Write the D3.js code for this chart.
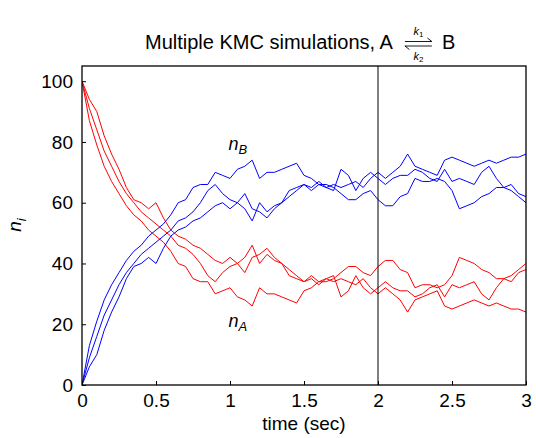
<!DOCTYPE html>
<html><head><meta charset="utf-8">
<script src="https://cdn.jsdelivr.net/npm/d3@7"></script>
<style>
body{margin:0;background:#fff}
text{font-family:"Liberation Sans",Arial,sans-serif;fill:#000}
</style>
</head><body>
<svg id="c" width="536" height="438"></svg>
<script>
// time grid (sec)
const times = [0,0.05,0.1,0.15,0.2,0.25,0.3,0.35,0.4,0.45,
  0.5,0.55,0.6,0.65,0.7,0.75,0.8,0.85,0.9,0.95,
  1,1.05,1.1,1.15,1.2,1.25,1.3,1.35,1.4,1.45,
  1.5,1.55,1.6,1.65,1.7,1.75,1.8,1.85,1.9,1.95,
  2,2.05,2.1,2.15,2.2,2.25,2.3,2.35,2.4,2.45,
  2.5,2.55,2.6,2.65,2.7,2.75,2.8,2.85,2.9,2.95,3];

// n_B for three KMC runs
const nB_run1 = [0,13,21,28,33,37,41,44,46,49, 51,53,56,60,61,65,66,66,70,69,
  68,71,72,74,68,70,70,71,72,73, 69,68,66,65,66,65,66,67,65,68,
  70,68,70,72,76,72,71,70,69,74, 75,74,73,72,73,74,73,74,75,75, 76];
const nB_run2 = [0,9,16,23,28,33,37,40,43,45, 47,49,51,54,55,57,60,64,66,63,
  61,60,58,54,60,57,59,60,64,65, 66,65,67,65,64,71,69,64,68,70,
  68,66,68,69,69,71,70,68,67,71, 67,68,67,66,70,72,68,65,66,63, 62];
const nB_run3 = [0,6,10,18,24,29,35,39,40,42, 40,45,49,51,52,54,55,57,59,60,
  58,60,63,58,57,55,58,60,62,64, 66,64,66,66,65,63,61,61,63,64,
  61,59,59,62,63,68,67,67,68,67, 64,58,59,60,62,63,65,65,64,62, 60];

// n_A for the same three runs
const nA_run1 = [100,87,79,72,67,63,59,56,54,51, 49,47,44,40,39,35,34,34,30,31,
  32,29,28,26,32,30,30,29,28,27, 31,32,34,35,34,35,34,33,35,32,
  30,32,30,28,24,28,29,30,31,26, 25,26,27,28,27,26,27,26,25,25, 24];
const nA_run2 = [100,91,84,77,72,67,63,60,57,55, 53,51,49,46,45,43,40,36,34,37,
  39,40,42,46,40,43,41,40,36,35, 34,35,33,35,36,29,31,36,32,30,
  32,34,32,31,31,29,30,32,33,29, 33,32,33,34,30,28,32,35,34,37, 38];
const nA_run3 = [100,94,90,82,76,71,65,61,60,58, 60,55,51,49,48,46,45,43,41,40,
  42,40,37,42,43,45,42,40,38,36, 34,36,34,34,35,37,39,39,37,36,
  39,41,41,38,37,32,33,33,32,33, 36,42,41,40,38,37,35,35,36,38, 40];

const xTicks = [0,0.5,1,1.5,2,2.5,3];
const xTickLabels = ["0","0.5","1","1.5","2","2.5","3"];
const yTicks = [0,20,40,60,80,100];
const markerTime = 2;

const svg = d3.select("#c");
const L = 82, R = 526, T = 66, B = 385;
const x = d3.scaleLinear().domain([0,3]).range([L,R]);
const y = d3.scaleLinear().domain([0,105]).range([B,T]);

const line = d3.line().x((d,i)=>x(times[i])).y(d=>y(d));

svg.append("clipPath").attr("id","clip").append("rect")
  .attr("x",L).attr("y",T).attr("width",R-L).attr("height",B-T);
const plot = svg.append("g").attr("clip-path","url(#clip)");

[nA_run1,nA_run2,nA_run3].forEach(s=>{
  plot.append("path").attr("d",line(s)).attr("fill","none")
    .attr("stroke","#ff0000").attr("stroke-width",1).attr("stroke-linejoin","round");
});
[nB_run1,nB_run2,nB_run3].forEach(s=>{
  plot.append("path").attr("d",line(s)).attr("fill","none")
    .attr("stroke","#0000ff").attr("stroke-width",1).attr("stroke-linejoin","round");
});

// vertical marker line
svg.append("line").attr("x1",x(markerTime)).attr("x2",x(markerTime))
  .attr("y1",T).attr("y2",B).attr("stroke","#000").attr("stroke-width",1);

// axes
const xa = svg.append("g").attr("transform",`translate(0,${B})`)
  .call(d3.axisBottom(x).tickValues(xTicks).tickSize(-4).tickPadding(9)
    .tickFormat((d,i)=>xTickLabels[i]));
const ya = svg.append("g").attr("transform",`translate(${L},0)`)
  .call(d3.axisLeft(y).tickValues(yTicks).tickSize(-4).tickPadding(9));
[xa,ya].forEach(a=>{
  a.select(".domain").remove();
  a.selectAll("line").attr("stroke","#000").attr("stroke-width",1);
  a.selectAll("text").attr("font-size",19).attr("font-family","Liberation Sans, Arial, sans-serif").attr("fill","#000");
});

// frame
svg.append("rect").attr("x",L).attr("y",T).attr("width",R-L).attr("height",B-T)
  .attr("fill","none").attr("stroke","#000").attr("stroke-width",1.3);

// axis labels
svg.append("text").attr("x",(L+R)/2).attr("y",430).attr("text-anchor","middle")
  .attr("font-size",19).text("time (sec)");
const yl = svg.append("text").attr("transform","translate(21,225) rotate(-90)")
  .attr("text-anchor","middle").attr("font-size",19);
yl.append("tspan").attr("font-style","italic").text("n");
yl.append("tspan").attr("font-style","italic").attr("font-size",13).attr("dy",5).text("i");

// curve labels
function sublabel(px,py,base,sub){
  const t = svg.append("text").attr("x",px).attr("y",py).attr("font-size",18);
  t.append("tspan").attr("font-style","italic").text(base);
  t.append("tspan").attr("font-style","italic").attr("font-size",13).attr("dy",4).text(sub);
}
sublabel(x(0.99),y(77.5),"n","B");
sublabel(x(0.99),y(19),"n","A");

// title
const title = svg.append("text").attr("x",145).attr("y",49).attr("font-size",20)
  .text("Multiple KMC simulations, A");
const tw = title.node().getComputedTextLength();
const ax0 = 145 + tw + 12, ax1 = ax0 + 27, ay1 = 41.5, ay2 = 46;
svg.append("path").attr("d",`M${ax0},${ay1}H${ax1}l-4.5,-3.5`).attr("fill","none")
  .attr("stroke","#000").attr("stroke-width",0.9);
svg.append("path").attr("d",`M${ax1},${ay2}H${ax0}l4.5,3.5`).attr("fill","none")
  .attr("stroke","#000").attr("stroke-width",0.9);
function ktext(px,py,sub){
  const t = svg.append("text").attr("x",px).attr("y",py).attr("text-anchor","middle").attr("font-size",11);
  t.append("tspan").attr("font-style","italic").text("k");
  t.append("tspan").attr("font-size",8).attr("dy",2).text(sub);
}
ktext((ax0+ax1)/2, 35, "1");
ktext((ax0+ax1)/2, 60, "2");
svg.append("text").attr("x",ax1+10).attr("y",49).attr("font-size",20).text("B");
</script>
</body></html>
